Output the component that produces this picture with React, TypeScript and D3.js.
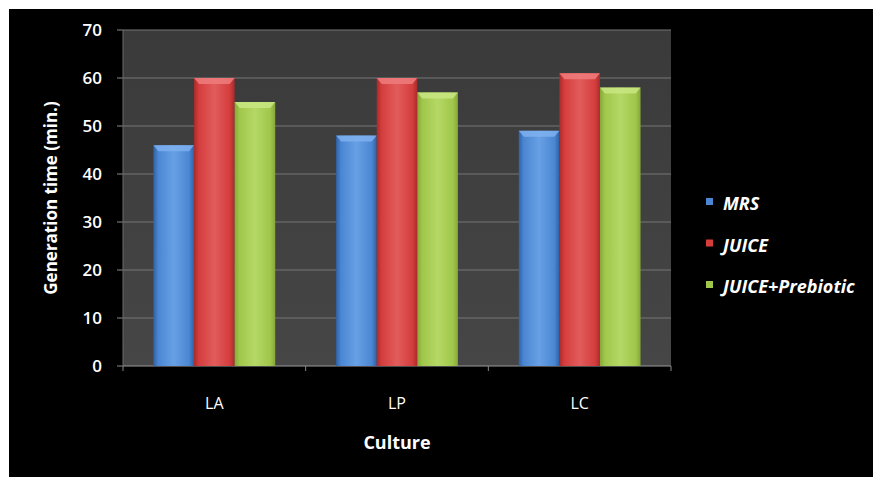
import React from "react";
import * as d3 from "d3";

// Generation time (min.) per culture and growth medium
const cultures = ["LA", "LP", "LC"];
const seriesNames = ["MRS", "JUICE", "JUICE+Prebiotic"];
const mrsValues = [46, 48, 49];
const juiceValues = [60, 60, 61];
const prebioticValues = [55, 57, 58];
const yTicks = [0, 10, 20, 30, 40, 50, 60, 70];

const seriesValues = [mrsValues, juiceValues, prebioticValues];
const palettes = [
  { dark: "#2f62a8", mid: "#4a86d2", light: "#68a0e4", top: "#7fb0ee" },
  { dark: "#a92b2b", mid: "#d53d3d", light: "#e25c5c", top: "#ee7c7c" },
  { dark: "#86a83a", mid: "#a0c64a", light: "#b5d866", top: "#c9e683" },
];

const W = 873;
const H = 477;
const plot = { left: 123, top: 30, right: 671, bottom: 366 };
const font = "'Open Sans', 'DejaVu Sans', sans-serif";

export default function App() {
  const x0 = d3
    .scaleBand<string>()
    .domain(cultures)
    .range([plot.left, plot.right])
    .paddingInner(0)
    .paddingOuter(0);
  // bar width = group / (3 bars + 1.5 gap)
  const groupW = x0.bandwidth();
  const barW = groupW / 4.5;
  const y = d3.scaleLinear().domain([0, 70]).range([plot.bottom, plot.top]);

  return (
    <svg
      width={W}
      height={H}
      style={{ position: "absolute", left: 0, top: 0, display: "block" }}
    >
      <defs>
        {palettes.map((p, i) => (
          <linearGradient key={i} id={`bar${i}`} x1="0" x2="1" y1="0" y2="0">
            <stop offset="0%" stopColor={p.dark} />
            <stop offset="12%" stopColor={p.mid} />
            <stop offset="50%" stopColor={p.light} />
            <stop offset="88%" stopColor={p.mid} />
            <stop offset="100%" stopColor={p.dark} />
          </linearGradient>
        ))}
        <linearGradient id="plotBg" x1="0" x2="0" y1="0" y2="1">
          <stop offset="0%" stopColor="#3a3a3a" />
          <stop offset="100%" stopColor="#464646" />
        </linearGradient>
      </defs>
      <rect x={0} y={0} width={W} height={H} fill="#ffffff" />
      <rect x={9} y={9} width={W - 9} height={H - 9} fill="#000000" />

      {/* plot area */}
      <rect
        x={plot.left}
        y={plot.top}
        width={plot.right - plot.left}
        height={plot.bottom - plot.top}
        fill="url(#plotBg)"
      />
      {yTicks.map((t) => (
        <g key={t}>
          <line
            x1={plot.left}
            x2={plot.right}
            y1={y(t)}
            y2={y(t)}
            stroke={t === 0 ? "#9a9a9a" : "#767676"}
            strokeWidth={1}
          />
          <line
            x1={plot.left - 6}
            x2={plot.left}
            y1={y(t)}
            y2={y(t)}
            stroke="#8a8a8a"
          />
          <text
            x={102}
            y={y(t)}
            dy="0.36em"
            textAnchor="end"
            fill="#ffffff"
            fontFamily={font}
            fontSize={17}
            fontWeight={600}
          >
            {t}
          </text>
        </g>
      ))}
      <line
        x1={plot.left}
        x2={plot.left}
        y1={plot.top}
        y2={plot.bottom}
        stroke="#6a6a6a"
      />

      {/* bars */}
      {cultures.map((c, ci) => {
        const gx = (x0(c) as number) + barW * 0.75;
        return (
          <g key={c}>
            {seriesValues.map((vals, si) => {
              const bx = gx + si * barW;
              const by = y(vals[ci]);
              const bh = plot.bottom - by;
              const bev = 6;
              const p = palettes[si];
              return (
                <g key={si}>
                  <rect
                    x={bx}
                    y={by}
                    width={barW}
                    height={bh}
                    fill={`url(#bar${si})`}
                  />
                  <polygon
                    points={`${bx},${by} ${bx + barW},${by} ${bx + barW - 5},${by + bev} ${bx + 5},${by + bev}`}
                    fill={p.top}
                    opacity={0.85}
                  />
                </g>
              );
            })}
            <line
              x1={x0(c) as number}
              x2={x0(c) as number}
              y1={plot.bottom}
              y2={plot.bottom + 5}
              stroke="#8a8a8a"
            />
            <text
              x={(x0(c) as number) + groupW / 2}
              y={403}
              dy="0.35em"
              textAnchor="middle"
              fill="#ffffff"
              fontFamily={font}
              fontSize={16}
            >
              {c}
            </text>
          </g>
        );
      })}
      <line
        x1={plot.right}
        x2={plot.right}
        y1={plot.bottom}
        y2={plot.bottom + 5}
        stroke="#8a8a8a"
      />

      {/* axis titles */}
      <text
        x={(plot.left + plot.right) / 2}
        y={443}
        dy="0.35em"
        textAnchor="middle"
        fill="#ffffff"
        fontFamily={font}
        fontSize={18}
        fontWeight={700}
      >
        Culture
      </text>
      <text
        transform={`translate(51, ${(plot.top + plot.bottom) / 2}) rotate(-90)`}
        textAnchor="middle"
        dy="0.35em"
        fill="#ffffff"
        fontFamily={font}
        fontSize={17}
        fontWeight={700}
      >
        Generation time (min.)
      </text>

      {/* legend */}
      {seriesNames.map((n, i) => {
        const ly = 204 + i * 41.5;
        return (
          <g key={n}>
            <rect
              x={706}
              y={ly - 6}
              width={7}
              height={7}
              fill={palettes[i].mid}
            />
            <text
              x={723}
              y={ly}
              dy="0.35em"
              fill="#ffffff"
              fontFamily={font}
              fontSize={18}
              fontWeight={700}
              fontStyle="italic"
            >
              {n}
            </text>
          </g>
        );
      })}
    </svg>
  );
}
